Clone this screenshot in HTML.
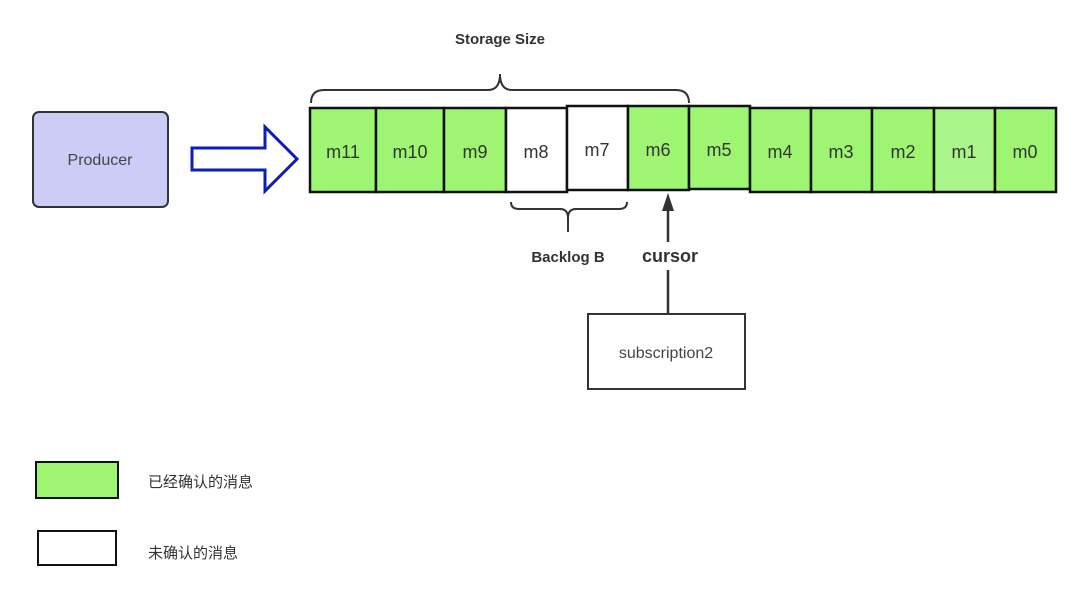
<!DOCTYPE html>
<html><head><meta charset="utf-8"><style>
body{margin:0;background:#fff;}
svg text{font-family:"Liberation Sans","Noto Sans CJK SC",sans-serif;}
</style></head><body>
<svg width="1080" height="584" viewBox="0 0 1080 584" xmlns="http://www.w3.org/2000/svg">
<rect width="1080" height="584" fill="#fff"/>
<text x="500" y="44" font-size="15" text-anchor="middle" fill="#333" font-weight="bold">Storage Size</text>
<path d="M311,103 Q311,90 324,90 L488,90 Q500,90 500,74 Q500,90 512,90 L676,90 Q689,90 689,103" fill="none" stroke="#333" stroke-width="2"/>
<rect x="33" y="112" width="135" height="95" rx="6" fill="#ccccf7" stroke="#333" stroke-width="2"/>
<text x="100" y="165" font-size="16" text-anchor="middle" fill="#444">Producer</text>
<path d="M192,148 L265,148 L265,127 L297,159 L265,191 L265,170 L192,170 Z" fill="#fff" stroke="#0a1fb5" stroke-width="3"/>
<g stroke="#111" stroke-width="2.5">
<rect x="310" y="108" width="66" height="84" fill="#9ef572"/>
<rect x="376" y="108" width="68" height="84" fill="#9ef572"/>
<rect x="444" y="108" width="62" height="84" fill="#9ef572"/>
<rect x="506" y="108" width="61" height="84" fill="#fff"/>
<rect x="567" y="106" width="61" height="84" fill="#fff"/>
<rect x="628" y="106" width="61" height="84" fill="#9ef572"/>
<rect x="689" y="106" width="61" height="83" fill="#9ef572"/>
<rect x="750" y="108" width="61" height="84" fill="#9ef572"/>
<rect x="811" y="108" width="61" height="84" fill="#9ef572"/>
<rect x="872" y="108" width="62" height="84" fill="#9ef572"/>
<rect x="934" y="108" width="61" height="84" fill="#aaf58a"/>
<rect x="995" y="108" width="61" height="84" fill="#9ef572"/>
</g>
<g font-size="18" text-anchor="middle" fill="#333">
<text x="343" y="158">m11</text><text x="410" y="158">m10</text><text x="475" y="158">m9</text>
<text x="536" y="158">m8</text><text x="597" y="156">m7</text><text x="658" y="156">m6</text>
<text x="719" y="156">m5</text><text x="780" y="158">m4</text><text x="841" y="158">m3</text>
<text x="903" y="158">m2</text><text x="964" y="158">m1</text><text x="1025" y="158">m0</text>
</g>
<path d="M511,202 Q511,209 519,209 L560,209 Q568,209 568,218 L568,232 M568,218 Q568,209 576,209 L619,209 Q627,209 627,202" fill="none" stroke="#333" stroke-width="2"/>
<text x="568" y="262" font-size="15" text-anchor="middle" fill="#333" font-weight="bold">Backlog B</text>
<text x="670" y="262" font-size="18" text-anchor="middle" fill="#333" font-weight="bold">cursor</text>
<line x1="668" y1="205" x2="668" y2="242" stroke="#333" stroke-width="2.5"/>
<line x1="668" y1="270" x2="668" y2="313" stroke="#333" stroke-width="2.5"/>
<path d="M668,193 L662,211 L674,211 Z" fill="#333"/>
<rect x="588" y="314" width="157" height="75" fill="#fff" stroke="#333" stroke-width="2"/>
<text x="666" y="358" font-size="16" text-anchor="middle" fill="#444">subscription2</text>
<rect x="36" y="462" width="82" height="36" fill="#9ef572" stroke="#111" stroke-width="2"/>
<rect x="38" y="531" width="78" height="34" fill="#fff" stroke="#111" stroke-width="2"/>
<text x="148" y="487" font-size="15" fill="#333">已经确认的消息</text>
<text x="148" y="558" font-size="15" fill="#333">未确认的消息</text>
</svg>
</body></html>
